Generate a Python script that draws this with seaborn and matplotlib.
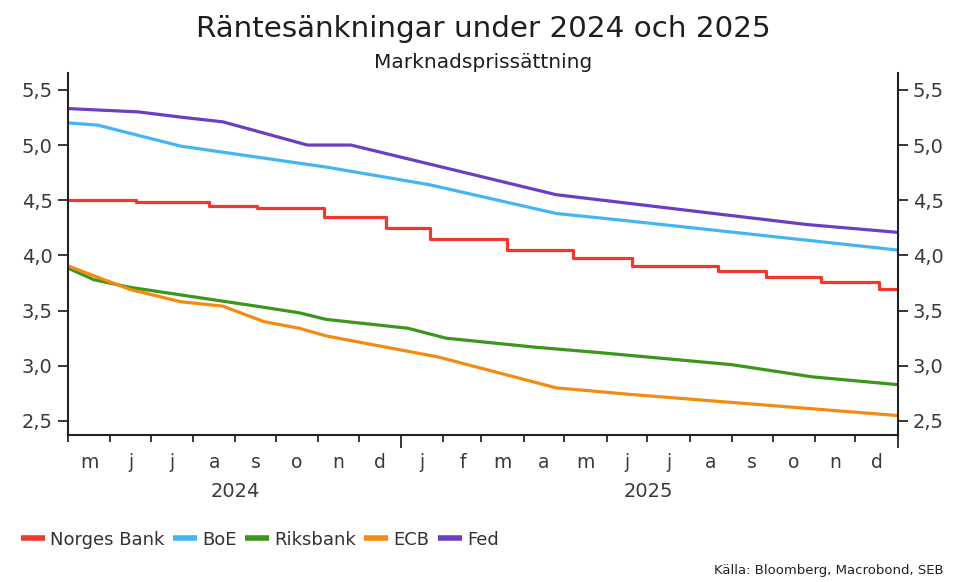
import pandas as pd
import numpy as np
import seaborn as sns
import matplotlib.pyplot as plt
import matplotlib.dates as mdates
from matplotlib.ticker import FuncFormatter, FixedLocator
from matplotlib.transforms import blended_transform_factory

# values (market pricing of policy rates)
norges_dates = ["2024-05-02", "2024-06-20", "2024-08-13", "2024-09-17", "2024-11-05",
                "2024-12-21", "2025-01-22", "2025-03-20", "2025-05-07", "2025-06-20",
                "2025-08-22", "2025-09-26", "2025-11-06", "2025-12-18", "2025-12-31"]
norges_vals = [4.50, 4.48, 4.45, 4.43, 4.35, 4.25, 4.15, 4.05, 3.98, 3.90,
               3.86, 3.80, 3.76, 3.70, 3.70]

boe_dates = ["2024-05-02", "2024-05-23", "2024-07-23", "2024-11-07", "2025-01-22",
             "2025-04-25", "2025-06-19", "2025-12-31"]
boe_vals = [5.20, 5.18, 4.99, 4.80, 4.64, 4.38, 4.31, 4.05]

riks_dates = ["2024-05-02", "2024-05-20", "2024-06-16", "2024-08-04", "2024-09-22",
              "2024-10-18", "2024-11-07", "2025-01-06", "2025-02-03", "2025-04-08",
              "2025-05-26", "2025-09-01", "2025-10-30", "2025-12-31"]
riks_vals = [3.88, 3.78, 3.71, 3.62, 3.53, 3.48, 3.42, 3.34, 3.25, 3.17,
             3.12, 3.01, 2.90, 2.83]

ecb_dates = ["2024-05-02", "2024-06-16", "2024-07-23", "2024-08-23", "2024-09-22",
             "2024-10-18", "2024-11-07", "2025-01-28", "2025-04-25", "2025-06-19",
             "2025-12-31"]
ecb_vals = [3.90, 3.69, 3.58, 3.54, 3.40, 3.34, 3.27, 3.08, 2.80, 2.74, 2.55]

fed_dates = ["2024-05-02", "2024-06-22", "2024-07-25", "2024-08-23", "2024-10-24",
             "2024-11-25", "2025-04-25", "2025-10-26", "2025-12-31"]
fed_vals = [5.33, 5.30, 5.25, 5.21, 5.00, 5.00, 4.55, 4.28, 4.21]

month_labels = ["m", "j", "j", "a", "s", "o", "n", "d",
                "j", "f", "m", "a", "m", "j", "j", "a", "s", "o", "n", "d"]
years = ["2024", "2025"]

colors = {"Norges Bank": "#f2382d", "BoE": "#44b5f0", "Riksbank": "#3b961c",
          "ECB": "#f48b10", "Fed": "#6c3ec2"}

series = [("Norges Bank", norges_dates, norges_vals),
          ("BoE", boe_dates, boe_vals),
          ("Riksbank", riks_dates, riks_vals),
          ("ECB", ecb_dates, ecb_vals),
          ("Fed", fed_dates, fed_vals)]

sns.set_style("white")
plt.rcParams['font.family'] = ['DejaVu Sans']

fig = plt.figure(figsize=(9.57, 5.82), dpi=100)
ax = fig.add_axes([0.071, 0.253, 0.867, 0.622])

for name, dates, vals in series:
    df = pd.DataFrame({"date": pd.to_datetime(dates), "value": vals})
    kw = {"drawstyle": "steps-post"} if name == "Norges Bank" else {}
    sns.lineplot(data=df, x="date", y="value", ax=ax, color=colors[name],
                 linewidth=2.3, label=name, **kw)

ax.set_xlim(pd.Timestamp("2024-05-01"), pd.Timestamp("2026-01-01"))
ax.set_ylim(2.375, 5.655)
ax.set_yticks([2.5, 3.0, 3.5, 4.0, 4.5, 5.0, 5.5])
ax.yaxis.set_major_formatter(FuncFormatter(lambda v, p: f"{v:.1f}".replace(".", ",")))
ax.tick_params(axis="y", left=True, right=True, labelleft=True, labelright=True,
               direction="out", length=7, width=1.3, labelsize=14, labelcolor="#3a3a3a",
               pad=4)

month_starts = pd.date_range("2024-05-01", "2026-01-01", freq="MS")
ax.xaxis.set_major_locator(FixedLocator(mdates.date2num(
    [pd.Timestamp("2025-01-01"), pd.Timestamp("2026-01-01")])))
ax.xaxis.set_minor_locator(FixedLocator(mdates.date2num(month_starts)))
ax.xaxis.set_major_formatter(FuncFormatter(lambda v, p: ""))
ax.xaxis.set_minor_formatter(FuncFormatter(lambda v, p: ""))
ax.tick_params(axis="x", which="major", direction="out", length=9, width=1.3, bottom=True)
ax.tick_params(axis="x", which="minor", direction="out", length=5, width=1.3, bottom=True)

trans = blended_transform_factory(ax.transData, ax.transAxes)
for i, lab in enumerate(month_labels):
    mid = month_starts[i] + (month_starts[i + 1] - month_starts[i]) / 2
    ax.text(mdates.date2num(mid), -0.076, lab, transform=trans, ha="center", va="center",
            fontsize=13.5, color="#3a3a3a")
year_mid = [pd.Timestamp("2024-09-01"), pd.Timestamp("2025-07-02")]
for yr, mid in zip(years, year_mid):
    ax.text(mdates.date2num(mid), -0.157, yr, transform=trans, ha="center", va="center",
            fontsize=14, color="#3a3a3a")

ax.set_xlabel("")
ax.set_ylabel("")
for side in ["left", "right", "bottom"]:
    ax.spines[side].set_visible(True)
    ax.spines[side].set_color("#222222")
    ax.spines[side].set_linewidth(1.5)
ax.spines["top"].set_visible(False)

ax.legend(loc="center left", bbox_to_anchor=(-0.057, -0.29), ncol=5, frameon=False,
          fontsize=13, handlelength=1.35, handletextpad=0.28, columnspacing=0.45,
          borderaxespad=0, borderpad=0, labelcolor="#333333")
for line in ax.get_legend().get_lines():
    line.set_linewidth(4)
    line.set_solid_capstyle("butt")

fig.text(0.505, 0.950, "Räntesänkningar under 2024 och 2025", ha="center", va="center",
         fontsize=21.2, color="#1e1e1e")
fig.text(0.505, 0.893, "Marknadsprissättning", ha="center", va="center",
         fontsize=14.5, color="#1e1e1e")
fig.text(0.986, 0.008, "Källa: Bloomberg, Macrobond, SEB", ha="right", va="bottom",
         fontsize=9.5, color="#222222")

fig.savefig("out.png", dpi=100)
